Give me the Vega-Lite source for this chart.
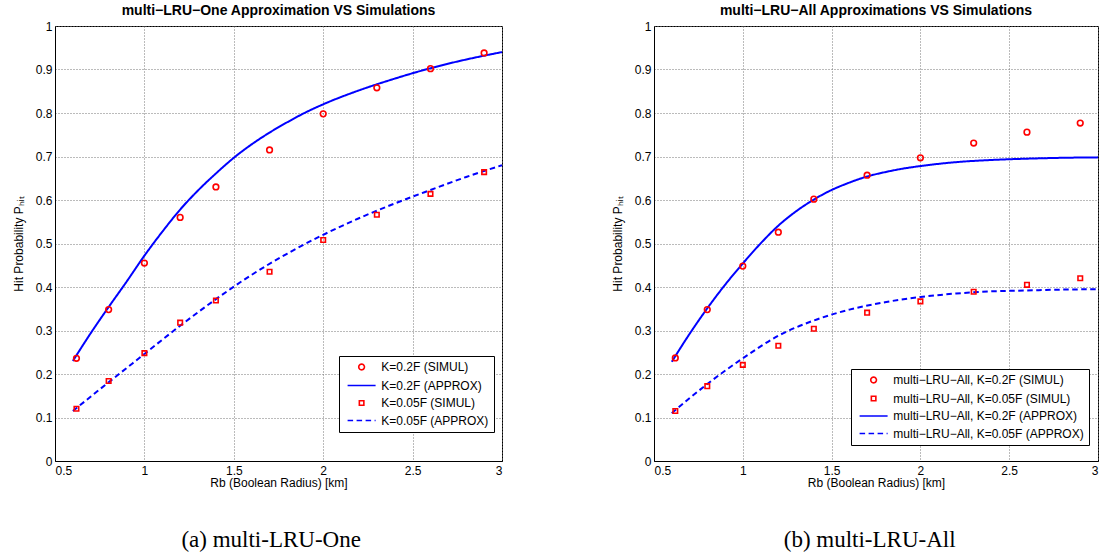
{
  "$schema": "https://vega.github.io/schema/vega-lite/v6.json",
  "padding": {"left": 11, "top": 3, "right": 0, "bottom": 0},
  "background": "white",
  "config": {
    "font": "Liberation Sans",
    "view": {"stroke": "black", "strokeWidth": 1},
    "axis": {
      "grid": true, "gridColor": "#777777", "gridDash": [1, 2], "gridWidth": 1,
      "domainColor": "black", "domainWidth": 1, "ticks": false,
      "labelFontSize": 12, "labelColor": "black", "labelFont": "Liberation Sans", "labelPadding": 3,
      "titleFontSize": 12, "titleFontWeight": "normal", "titleColor": "black", "titleFont": "Liberation Sans"
    },
    "title": {"fontSize": 14, "fontWeight": "bold", "font": "Liberation Sans", "color": "black", "offset": 2},
    "legend": {
      "fillColor": "white", "strokeColor": "black", "padding": 5,
      "labelFontSize": 12, "labelColor": "black", "labelFont": "Liberation Sans", "labelLimit": 400,
      "symbolStrokeWidth": 1.6, "symbolSize": 32, "rowPadding": 5.5, "symbolOffset": 11.6, "labelOffset": 13.7
    }
  },
  "resolve": {
    "scale": {"x": "independent", "y": "independent", "color": "independent", "shape": "independent", "strokeDash": "independent"},
    "legend": {"color": "independent", "shape": "independent", "strokeDash": "independent"}
  },
  "datasets": {
    "simA": [
      {"x": 0.62, "y": 0.236, "series": "K=0.2F (SIMUL)"},
      {"x": 0.8, "y": 0.348, "series": "K=0.2F (SIMUL)"},
      {"x": 1.0, "y": 0.455, "series": "K=0.2F (SIMUL)"},
      {"x": 1.2, "y": 0.56, "series": "K=0.2F (SIMUL)"},
      {"x": 1.4, "y": 0.63, "series": "K=0.2F (SIMUL)"},
      {"x": 1.7, "y": 0.715, "series": "K=0.2F (SIMUL)"},
      {"x": 2.0, "y": 0.798, "series": "K=0.2F (SIMUL)"},
      {"x": 2.3, "y": 0.858, "series": "K=0.2F (SIMUL)"},
      {"x": 2.6, "y": 0.902, "series": "K=0.2F (SIMUL)"},
      {"x": 2.9, "y": 0.938, "series": "K=0.2F (SIMUL)"},
      {"x": 0.62, "y": 0.12, "series": "K=0.05F (SIMUL)"},
      {"x": 0.8, "y": 0.184, "series": "K=0.05F (SIMUL)"},
      {"x": 1.0, "y": 0.248, "series": "K=0.05F (SIMUL)"},
      {"x": 1.2, "y": 0.318, "series": "K=0.05F (SIMUL)"},
      {"x": 1.4, "y": 0.369, "series": "K=0.05F (SIMUL)"},
      {"x": 1.7, "y": 0.435, "series": "K=0.05F (SIMUL)"},
      {"x": 2.0, "y": 0.508, "series": "K=0.05F (SIMUL)"},
      {"x": 2.3, "y": 0.566, "series": "K=0.05F (SIMUL)"},
      {"x": 2.6, "y": 0.614, "series": "K=0.05F (SIMUL)"},
      {"x": 2.9, "y": 0.664, "series": "K=0.05F (SIMUL)"}
    ],
    "approxA": [
      {"x": 0.6, "y": 0.23, "series": "K=0.2F (APPROX)"},
      {"x": 0.7, "y": 0.294, "series": "K=0.2F (APPROX)"},
      {"x": 0.8, "y": 0.354, "series": "K=0.2F (APPROX)"},
      {"x": 0.9, "y": 0.412, "series": "K=0.2F (APPROX)"},
      {"x": 1.0, "y": 0.472, "series": "K=0.2F (APPROX)"},
      {"x": 1.1, "y": 0.527, "series": "K=0.2F (APPROX)"},
      {"x": 1.2, "y": 0.578, "series": "K=0.2F (APPROX)"},
      {"x": 1.3, "y": 0.622, "series": "K=0.2F (APPROX)"},
      {"x": 1.4, "y": 0.661, "series": "K=0.2F (APPROX)"},
      {"x": 1.5, "y": 0.697, "series": "K=0.2F (APPROX)"},
      {"x": 1.6, "y": 0.728, "series": "K=0.2F (APPROX)"},
      {"x": 1.7, "y": 0.755, "series": "K=0.2F (APPROX)"},
      {"x": 1.8, "y": 0.779, "series": "K=0.2F (APPROX)"},
      {"x": 1.9, "y": 0.801, "series": "K=0.2F (APPROX)"},
      {"x": 2.0, "y": 0.82, "series": "K=0.2F (APPROX)"},
      {"x": 2.2, "y": 0.852, "series": "K=0.2F (APPROX)"},
      {"x": 2.4, "y": 0.879, "series": "K=0.2F (APPROX)"},
      {"x": 2.6, "y": 0.903, "series": "K=0.2F (APPROX)"},
      {"x": 2.8, "y": 0.923, "series": "K=0.2F (APPROX)"},
      {"x": 3.0, "y": 0.94, "series": "K=0.2F (APPROX)"},
      {"x": 0.6, "y": 0.115, "series": "K=0.05F (APPROX)"},
      {"x": 0.8, "y": 0.181, "series": "K=0.05F (APPROX)"},
      {"x": 1.0, "y": 0.246, "series": "K=0.05F (APPROX)"},
      {"x": 1.2, "y": 0.311, "series": "K=0.05F (APPROX)"},
      {"x": 1.4, "y": 0.372, "series": "K=0.05F (APPROX)"},
      {"x": 1.6, "y": 0.428, "series": "K=0.05F (APPROX)"},
      {"x": 1.8, "y": 0.477, "series": "K=0.05F (APPROX)"},
      {"x": 2.0, "y": 0.52, "series": "K=0.05F (APPROX)"},
      {"x": 2.2, "y": 0.558, "series": "K=0.05F (APPROX)"},
      {"x": 2.4, "y": 0.592, "series": "K=0.05F (APPROX)"},
      {"x": 2.6, "y": 0.623, "series": "K=0.05F (APPROX)"},
      {"x": 2.8, "y": 0.653, "series": "K=0.05F (APPROX)"},
      {"x": 3.0, "y": 0.68, "series": "K=0.05F (APPROX)"}
    ],
    "simB": [
      {"x": 0.62, "y": 0.237, "series": "multi−LRU−All, K=0.2F (SIMUL)"},
      {"x": 0.8, "y": 0.348, "series": "multi−LRU−All, K=0.2F (SIMUL)"},
      {"x": 1.0, "y": 0.448, "series": "multi−LRU−All, K=0.2F (SIMUL)"},
      {"x": 1.2, "y": 0.526, "series": "multi−LRU−All, K=0.2F (SIMUL)"},
      {"x": 1.4, "y": 0.602, "series": "multi−LRU−All, K=0.2F (SIMUL)"},
      {"x": 1.7, "y": 0.657, "series": "multi−LRU−All, K=0.2F (SIMUL)"},
      {"x": 2.0, "y": 0.697, "series": "multi−LRU−All, K=0.2F (SIMUL)"},
      {"x": 2.3, "y": 0.731, "series": "multi−LRU−All, K=0.2F (SIMUL)"},
      {"x": 2.6, "y": 0.756, "series": "multi−LRU−All, K=0.2F (SIMUL)"},
      {"x": 2.9, "y": 0.777, "series": "multi−LRU−All, K=0.2F (SIMUL)"},
      {"x": 0.62, "y": 0.115, "series": "multi−LRU−All, K=0.05F (SIMUL)"},
      {"x": 0.8, "y": 0.172, "series": "multi−LRU−All, K=0.05F (SIMUL)"},
      {"x": 1.0, "y": 0.221, "series": "multi−LRU−All, K=0.05F (SIMUL)"},
      {"x": 1.2, "y": 0.265, "series": "multi−LRU−All, K=0.05F (SIMUL)"},
      {"x": 1.4, "y": 0.304, "series": "multi−LRU−All, K=0.05F (SIMUL)"},
      {"x": 1.7, "y": 0.341, "series": "multi−LRU−All, K=0.05F (SIMUL)"},
      {"x": 2.0, "y": 0.367, "series": "multi−LRU−All, K=0.05F (SIMUL)"},
      {"x": 2.3, "y": 0.389, "series": "multi−LRU−All, K=0.05F (SIMUL)"},
      {"x": 2.6, "y": 0.405, "series": "multi−LRU−All, K=0.05F (SIMUL)"},
      {"x": 2.9, "y": 0.42, "series": "multi−LRU−All, K=0.05F (SIMUL)"}
    ],
    "approxB": [
      {"x": 0.6, "y": 0.228, "series": "multi−LRU−All, K=0.2F (APPROX)"},
      {"x": 0.7, "y": 0.292, "series": "multi−LRU−All, K=0.2F (APPROX)"},
      {"x": 0.8, "y": 0.351, "series": "multi−LRU−All, K=0.2F (APPROX)"},
      {"x": 0.9, "y": 0.405, "series": "multi−LRU−All, K=0.2F (APPROX)"},
      {"x": 1.0, "y": 0.454, "series": "multi−LRU−All, K=0.2F (APPROX)"},
      {"x": 1.1, "y": 0.5, "series": "multi−LRU−All, K=0.2F (APPROX)"},
      {"x": 1.2, "y": 0.541, "series": "multi−LRU−All, K=0.2F (APPROX)"},
      {"x": 1.3, "y": 0.574, "series": "multi−LRU−All, K=0.2F (APPROX)"},
      {"x": 1.4, "y": 0.601, "series": "multi−LRU−All, K=0.2F (APPROX)"},
      {"x": 1.5, "y": 0.623, "series": "multi−LRU−All, K=0.2F (APPROX)"},
      {"x": 1.6, "y": 0.64, "series": "multi−LRU−All, K=0.2F (APPROX)"},
      {"x": 1.7, "y": 0.654, "series": "multi−LRU−All, K=0.2F (APPROX)"},
      {"x": 1.8, "y": 0.664, "series": "multi−LRU−All, K=0.2F (APPROX)"},
      {"x": 1.9, "y": 0.672, "series": "multi−LRU−All, K=0.2F (APPROX)"},
      {"x": 2.0, "y": 0.678, "series": "multi−LRU−All, K=0.2F (APPROX)"},
      {"x": 2.2, "y": 0.687, "series": "multi−LRU−All, K=0.2F (APPROX)"},
      {"x": 2.4, "y": 0.692, "series": "multi−LRU−All, K=0.2F (APPROX)"},
      {"x": 2.6, "y": 0.695, "series": "multi−LRU−All, K=0.2F (APPROX)"},
      {"x": 2.8, "y": 0.697, "series": "multi−LRU−All, K=0.2F (APPROX)"},
      {"x": 3.0, "y": 0.698, "series": "multi−LRU−All, K=0.2F (APPROX)"},
      {"x": 0.6, "y": 0.11, "series": "multi−LRU−All, K=0.05F (APPROX)"},
      {"x": 0.8, "y": 0.177, "series": "multi−LRU−All, K=0.05F (APPROX)"},
      {"x": 1.0, "y": 0.236, "series": "multi−LRU−All, K=0.05F (APPROX)"},
      {"x": 1.2, "y": 0.288, "series": "multi−LRU−All, K=0.05F (APPROX)"},
      {"x": 1.4, "y": 0.323, "series": "multi−LRU−All, K=0.05F (APPROX)"},
      {"x": 1.6, "y": 0.348, "series": "multi−LRU−All, K=0.05F (APPROX)"},
      {"x": 1.8, "y": 0.365, "series": "multi−LRU−All, K=0.05F (APPROX)"},
      {"x": 2.0, "y": 0.377, "series": "multi−LRU−All, K=0.05F (APPROX)"},
      {"x": 2.2, "y": 0.385, "series": "multi−LRU−All, K=0.05F (APPROX)"},
      {"x": 2.4, "y": 0.39, "series": "multi−LRU−All, K=0.05F (APPROX)"},
      {"x": 2.6, "y": 0.392, "series": "multi−LRU−All, K=0.05F (APPROX)"},
      {"x": 2.8, "y": 0.394, "series": "multi−LRU−All, K=0.05F (APPROX)"},
      {"x": 3.0, "y": 0.395, "series": "multi−LRU−All, K=0.05F (APPROX)"}
    ]
  },
  "spacing": 103,
  "hconcat": [
    {
      "title": {"text": "(a) multi-LRU-One", "orient": "bottom", "anchor": "middle", "dx": 12, "font": "Liberation Serif", "fontSize": 23, "fontWeight": "normal", "offset": 40},
      "vconcat": [
        {
          "title": "multi−LRU−One Approximation VS Simulations",
          "width": 447,
          "height": 435,
          "layer": [
            {
              "data": {"name": "approxA"},
              "mark": {"type": "line", "strokeWidth": 2, "interpolate": "monotone"},
              "encoding": {
                "x": {"field": "x", "type": "quantitative", "scale": {"domain": [0.5, 3], "nice": false}, "axis": {"values": [0.5, 1, 1.5, 2, 2.5, 3], "format": "~g", "title": "Rb (Boolean Radius) [km]", "labelPadding": 4, "titlePadding": 1}},
                "y": {"field": "y", "type": "quantitative", "scale": {"domain": [0, 1], "nice": false}, "axis": {"values": [0, 0.1, 0.2, 0.3, 0.4, 0.5, 0.6, 0.7, 0.8, 0.9, 1], "format": "~g", "title": "Hit Probability Pₕᵢₜ", "titlePadding": 10}},
                "color": {"field": "series", "type": "nominal", "scale": {"domain": ["K=0.2F (SIMUL)", "K=0.2F (APPROX)", "K=0.05F (SIMUL)", "K=0.05F (APPROX)"], "range": ["#ff0000", "#0000ff", "#ff0000", "#0000ff"]}, "legend": {"orient": "none", "legendX": 284, "legendY": 330, "title": null}},
                "strokeDash": {"field": "series", "type": "nominal", "scale": {"domain": ["K=0.2F (SIMUL)", "K=0.2F (APPROX)", "K=0.05F (SIMUL)", "K=0.05F (APPROX)"], "range": [[1, 0], [1, 0], [1, 0], [5.5, 3.5]]}}
              }
            },
            {
              "data": {"name": "simA"},
              "mark": {"type": "point", "filled": false, "strokeWidth": 1.6, "opacity": 1, "size": 32},
              "encoding": {
                "x": {"field": "x", "type": "quantitative"},
                "y": {"field": "y", "type": "quantitative"},
                "color": {"field": "series", "type": "nominal"},
                "shape": {"field": "series", "type": "nominal", "scale": {"domain": ["K=0.2F (SIMUL)", "K=0.2F (APPROX)", "K=0.05F (SIMUL)", "K=0.05F (APPROX)"], "range": ["circle", "M-4.95,0H4.95", "M-0.8,-0.8H0.8V0.8H-0.8Z", "M-4.95,0H4.95"]}}
              }
            }
          ]
        }
      ]
    },
    {
      "title": {"text": "(b) multi-LRU-All", "orient": "bottom", "anchor": "middle", "dx": 13, "font": "Liberation Serif", "fontSize": 23, "fontWeight": "normal", "offset": 40},
      "vconcat": [
        {
          "title": "multi−LRU−All Approximations VS Simulations",
          "width": 444,
          "height": 435,
          "layer": [
            {
              "data": {"name": "approxB"},
              "mark": {"type": "line", "strokeWidth": 2, "interpolate": "monotone"},
              "encoding": {
                "x": {"field": "x", "type": "quantitative", "scale": {"domain": [0.5, 3], "nice": false}, "axis": {"values": [0.5, 1, 1.5, 2, 2.5, 3], "format": "~g", "title": "Rb (Boolean Radius) [km]", "labelPadding": 4, "titlePadding": 1}},
                "y": {"field": "y", "type": "quantitative", "scale": {"domain": [0, 1], "nice": false}, "axis": {"values": [0, 0.1, 0.2, 0.3, 0.4, 0.5, 0.6, 0.7, 0.8, 0.9, 1], "format": "~g", "title": "Hit Probability Pₕᵢₜ", "titlePadding": 10}},
                "color": {"field": "series", "type": "nominal", "scale": {"domain": ["multi−LRU−All, K=0.2F (SIMUL)", "multi−LRU−All, K=0.05F (SIMUL)", "multi−LRU−All, K=0.2F (APPROX)", "multi−LRU−All, K=0.05F (APPROX)"], "range": ["#ff0000", "#ff0000", "#0000ff", "#0000ff"]}, "legend": {"orient": "none", "legendX": 197, "legendY": 343, "title": null}},
                "strokeDash": {"field": "series", "type": "nominal", "scale": {"domain": ["multi−LRU−All, K=0.2F (SIMUL)", "multi−LRU−All, K=0.05F (SIMUL)", "multi−LRU−All, K=0.2F (APPROX)", "multi−LRU−All, K=0.05F (APPROX)"], "range": [[1, 0], [1, 0], [1, 0], [5.5, 3.5]]}}
              }
            },
            {
              "data": {"name": "simB"},
              "mark": {"type": "point", "filled": false, "strokeWidth": 1.6, "opacity": 1, "size": 32},
              "encoding": {
                "x": {"field": "x", "type": "quantitative"},
                "y": {"field": "y", "type": "quantitative"},
                "color": {"field": "series", "type": "nominal"},
                "shape": {"field": "series", "type": "nominal", "scale": {"domain": ["multi−LRU−All, K=0.2F (SIMUL)", "multi−LRU−All, K=0.05F (SIMUL)", "multi−LRU−All, K=0.2F (APPROX)", "multi−LRU−All, K=0.05F (APPROX)"], "range": ["circle", "M-0.8,-0.8H0.8V0.8H-0.8Z", "M-4.95,0H4.95", "M-4.95,0H4.95"]}}
              }
            }
          ]
        }
      ]
    }
  ]
}
